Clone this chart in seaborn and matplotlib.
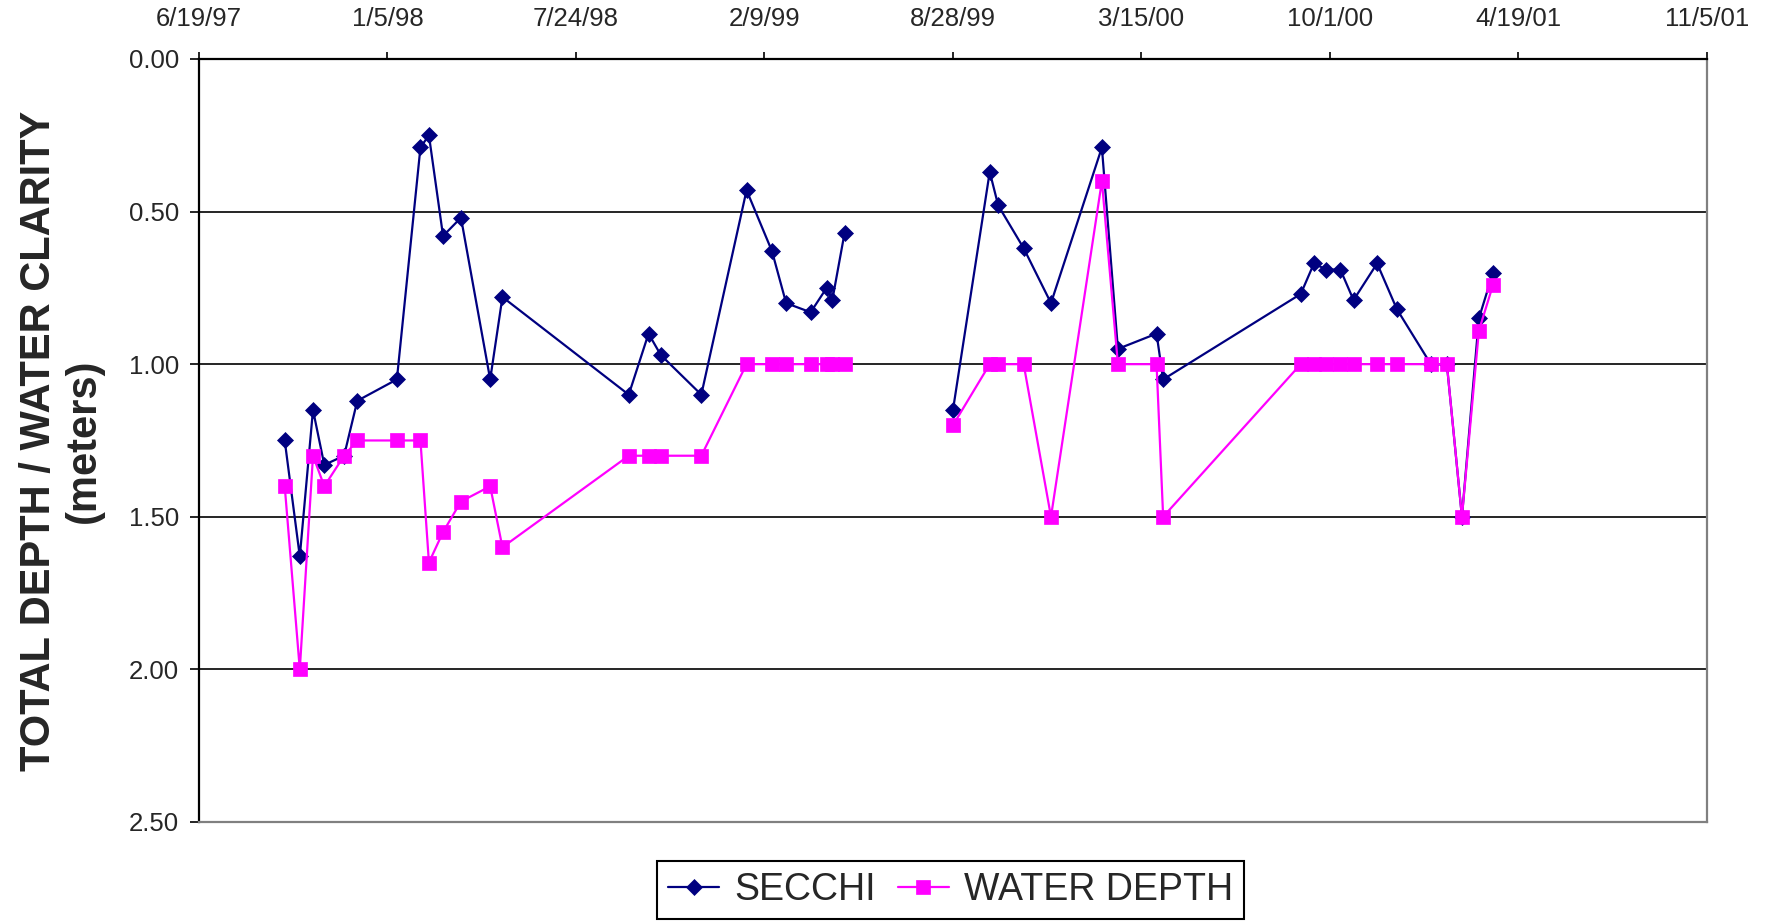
import pandas as pd
import matplotlib.pyplot as plt
import matplotlib.dates as mdates
import seaborn as sns
from matplotlib.ticker import FuncFormatter, FormatStrFormatter

# sampling dates (same day for both readings)
dates = ['9/18/97', '10/4/97', '10/18/97', '10/30/97', '11/20/97', '12/4/97',
         '1/15/98', '2/9/98', '2/18/98', '3/5/98', '3/24/98', '4/24/98', '5/7/98',
         '9/18/98', '10/9/98', '10/22/98', '12/4/98',
         '1/21/99', '2/17/99', '3/4/99', '3/30/99', '4/16/99', '4/22/99', '5/5/99',
         '8/28/99', '10/6/99', '10/15/99', '11/11/99', '12/10/99',
         '2/2/00', '2/19/00', '3/31/00', '4/7/00',
         '8/31/00', '9/14/00', '9/27/00', '10/12/00', '10/26/00', '11/20/00', '12/11/00',
         '1/16/01', '2/2/01', '2/18/01', '3/8/01', '3/23/01']

secchi = [1.25, 1.63, 1.15, 1.33, 1.30, 1.12,
          1.05, 0.29, 0.25, 0.58, 0.52, 1.05, 0.78,
          1.10, 0.90, 0.97, 1.10,
          0.43, 0.63, 0.80, 0.83, 0.75, 0.79, 0.57,
          1.15, 0.37, 0.48, 0.62, 0.80,
          0.29, 0.95, 0.90, 1.05,
          0.77, 0.67, 0.69, 0.69, 0.79, 0.67, 0.82,
          1.00, 1.00, 1.50, 0.85, 0.70]

water_depth = [1.40, 2.00, 1.30, 1.40, 1.30, 1.25,
               1.25, 1.25, 1.65, 1.55, 1.45, 1.40, 1.60,
               1.30, 1.30, 1.30, 1.30,
               1.00, 1.00, 1.00, 1.00, 1.00, 1.00, 1.00,
               1.20, 1.00, 1.00, 1.00, 1.50,
               0.40, 1.00, 1.00, 1.50,
               1.00, 1.00, 1.00, 1.00, 1.00, 1.00, 1.00,
               1.00, 1.00, 1.50, 0.89, 0.74]

# no samples between these, the lines break here
gap_start = '8/28/99'

x_start = '6/19/97'
x_end = '11/5/01'
y_ticks = [0.0, 0.5, 1.0, 1.5, 2.0, 2.5]

df = pd.DataFrame({
    'date': pd.to_datetime(dates, format='%m/%d/%y'),
    'SECCHI': secchi,
    'WATER DEPTH': water_depth,
})
df['segment'] = (df['date'] >= pd.to_datetime(gap_start, format='%m/%d/%y')).astype(int)

sns.set_style('white')
plt.rcParams['font.family'] = ['Liberation Sans', 'DejaVu Sans']

fig = plt.figure(figsize=(17.7, 9.21), dpi=100)
ax = fig.add_axes([0.1124, 0.1075, 0.852, 0.8285])

series = [('SECCHI', '#000080', 'D', 7.8), ('WATER DEPTH', '#FF00FF', 's', 9.8)]
for name, color, marker, ms in series:
    for seg, part in df.groupby('segment'):
        sns.lineplot(data=part, x='date', y=name, ax=ax, color=color,
                     marker=marker, markersize=ms,
                     markeredgecolor=color, markeredgewidth=0.5,
                     linewidth=1.6, estimator=None, errorbar=None, legend=False,
                     label=name if seg == 0 else '_nolegend_')

# axes
start = pd.to_datetime(x_start, format='%m/%d/%y')
end = pd.to_datetime(x_end, format='%m/%d/%y')
ax.set_xlim(start, end)
ax.set_xticks(pd.date_range(start, end, freq='200D'))
ax.xaxis.set_major_formatter(FuncFormatter(
    lambda v, pos: '{d.month}/{d.day}/{y}'.format(d=mdates.num2date(v), y=mdates.num2date(v).strftime('%y'))))
ax.xaxis.tick_top()
ax.set_xlabel('')

ax.set_ylim(2.5, 0)
ax.set_yticks(y_ticks)
ax.yaxis.set_major_formatter(FormatStrFormatter('%.2f'))
ax.set_ylabel('TOTAL DEPTH / WATER CLARITY\n(meters)', fontsize=30, fontweight='bold', linespacing=1.15)
ax.yaxis.set_label_coords(-0.063, 0.5)

ax.tick_params(axis='x', top=True, bottom=False, direction='out', length=5, width=1.2,
               pad=15, labelsize=18.5, color='black')
ax.tick_params(axis='y', left=True, direction='out', length=6.5, width=1.2,
               pad=8, labelsize=18.5, color='black')

ax.yaxis.grid(True, color='black', linewidth=1.2)
ax.xaxis.grid(False)
for side in ['top', 'left']:
    ax.spines[side].set_color('black')
    ax.spines[side].set_linewidth(1.6)
for side in ['bottom', 'right']:
    ax.spines[side].set_color('#808080')
    ax.spines[side].set_linewidth(1.6)

handles, labels = ax.get_legend_handles_labels()
leg = fig.legend(handles, labels, loc='lower center', bbox_to_anchor=(0.537, 0.002), ncol=2,
                 fontsize=27, frameon=True, fancybox=False, edgecolor='black', framealpha=1,
                 borderpad=0.3, handlelength=1.35, handletextpad=0.4, columnspacing=0.6,
                 borderaxespad=0)
leg.get_frame().set_linewidth(1.5)

fig.savefig('out.png', dpi=100, facecolor='white')
